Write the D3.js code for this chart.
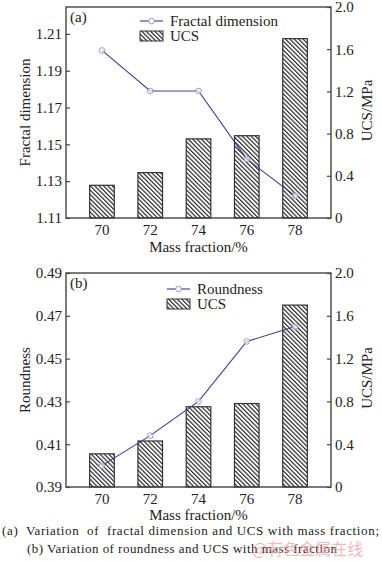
<!DOCTYPE html>
<html>
<head>
<meta charset="utf-8">
<script src="https://cdn.jsdelivr.net/npm/d3@7"></script>
<style>
  body { margin: 0; background: #fff; }
  svg text { font-family: "Liberation Serif", "DejaVu Serif", serif; fill: #222; }
</style>
</head>
<body>
<div id="chart"></div>
<script>
const massFraction = [70, 72, 74, 76, 78];
const ucs = [0.31, 0.43, 0.75, 0.78, 1.70];
const fractalDim = [1.201, 1.179, 1.179, 1.142, 1.122];
const roundness = [0.400, 0.414, 0.430, 0.458, 0.465];
const fractalTicks = [1.11, 1.13, 1.15, 1.17, 1.19, 1.21];
const roundTicks = [0.39, 0.41, 0.43, 0.45, 0.47, 0.49];
const ucsTicks = [0, 0.4, 0.8, 1.2, 1.6, 2.0];

const W = 382, H = 561;
const svg = d3.select('#chart').append('svg')
    .attr('width', W)
    .attr('height', H);

svg.append('rect').attr('width', W).attr('height', H).attr('fill', '#fff');

// hatch for the UCS bars
const defs = svg.append('defs');
const pat = defs.append('pattern')
    .attr('id', 'hatch')
    .attr('patternUnits', 'userSpaceOnUse')
    .attr('width', 3.1)
    .attr('height', 3.1)
    .attr('patternTransform', 'rotate(-45)');
pat.append('rect').attr('width', 3.1).attr('height', 3.1).attr('fill', '#fff');
pat.append('line')
    .attr('x1', 0.6).attr('y1', 0).attr('x2', 0.6).attr('y2', 3.1)
    .attr('stroke', '#2a2a2a').attr('stroke-width', 1.2);

const lineColor = '#3a3a8e';
const markerColor = '#9a9ad0';

function drawPanel(opts) {
    const left = 66, right = 331;
    const top = opts.top, bottom = opts.bottom;
    const g = svg.append('g');

    const x = d3.scaleBand()
        .domain(massFraction)
        .range([left, right])
        .padding(0.49);
    const xc = d => x(d) + x.bandwidth() / 2;

    const yL = d3.scaleLinear().domain(opts.leftDomain).range([bottom, top]);
    const yR = d3.scaleLinear().domain([0, 2.0]).range([bottom, top]);

    // bars
    g.selectAll('.bar')
        .data(massFraction)
        .enter().append('rect')
        .attr('class', 'bar')
        .attr('x', d => x(d))
        .attr('y', (d, i) => yR(ucs[i]))
        .attr('width', x.bandwidth())
        .attr('height', (d, i) => bottom - yR(ucs[i]))
        .attr('fill', 'url(#hatch)')
        .attr('stroke', '#333')
        .attr('stroke-width', 1.2);

    // frame
    g.append('rect')
        .attr('x', left).attr('y', top)
        .attr('width', right - left).attr('height', bottom - top)
        .attr('fill', 'none')
        .attr('stroke', '#444')
        .attr('stroke-width', 1.4);

    // left axis (ticks inward)
    const axL = g.append('g')
        .attr('transform', `translate(${left},0)`)
        .call(d3.axisRight(yL).tickValues(opts.leftTicks).tickSize(4).tickFormat(d3.format('.2f')));
    axL.select('.domain').remove();
    axL.selectAll('line').attr('stroke', '#444').attr('stroke-width', 1.2);
    axL.selectAll('text')
        .attr('x', -4)
        .attr('text-anchor', 'end')
        .style('font-size', '15px');

    // right axis (ticks inward)
    const axR = g.append('g')
        .attr('transform', `translate(${right},0)`)
        .call(d3.axisLeft(yR).tickValues(ucsTicks).tickSize(4)
            .tickFormat(d => d === 0 ? '0' : d.toFixed(1)));
    axR.select('.domain').remove();
    axR.selectAll('line').attr('stroke', '#444').attr('stroke-width', 1.2);
    axR.selectAll('text')
        .attr('x', 4)
        .attr('text-anchor', 'start')
        .style('font-size', '15px');

    // bottom axis labels
    const axB = g.append('g')
        .attr('transform', `translate(0,${bottom})`)
        .call(d3.axisBottom(x).tickSize(0).tickPadding(6));
    axB.select('.domain').remove();
    axB.selectAll('text').style('font-size', '15px');

    g.append('text')
        .attr('x', (left + right) / 2)
        .attr('y', bottom + opts.titleDy)
        .attr('text-anchor', 'middle')
        .style('font-size', '15px')
        .text('Mass fraction/%');

    g.append('text')
        .attr('transform', `translate(30,${(top + bottom) / 2}) rotate(-90)`)
        .attr('text-anchor', 'middle')
        .style('font-size', '15px')
        .text(opts.leftTitle);

    g.append('text')
        .attr('transform', `translate(372,${(top + bottom) / 2 - 2}) rotate(-90)`)
        .attr('text-anchor', 'middle')
        .style('font-size', '15px')
        .text('UCS/MPa');

    // line series
    const line = d3.line()
        .x((d, i) => xc(massFraction[i]))
        .y(d => yL(d));
    g.append('path')
        .datum(opts.values)
        .attr('d', line)
        .attr('fill', 'none')
        .attr('stroke', lineColor)
        .attr('stroke-width', 1.1);
    g.selectAll('.pt')
        .data(opts.values)
        .enter().append('circle')
        .attr('class', 'pt')
        .attr('cx', (d, i) => xc(massFraction[i]))
        .attr('cy', d => yL(d))
        .attr('r', 2.8)
        .attr('fill', '#fff')
        .attr('fill-opacity', 0.6)
        .attr('stroke', markerColor)
        .attr('stroke-width', 1);

    // panel tag
    g.append('text')
        .attr('x', 70).attr('y', top + 15)
        .style('font-size', '15px')
        .text(opts.tag);

    // legend
    const lx = opts.legendX, ly = top + opts.legendDy;
    g.append('line')
        .attr('x1', lx).attr('x2', lx + 23)
        .attr('y1', ly).attr('y2', ly)
        .attr('stroke', lineColor).attr('stroke-width', 1.1);
    g.append('circle')
        .attr('cx', lx + 11.5).attr('cy', ly).attr('r', 2.8)
        .attr('fill', '#fff').attr('stroke', markerColor).attr('stroke-width', 1);
    g.append('text')
        .attr('x', lx + 30).attr('y', ly + 5)
        .style('font-size', '15px')
        .text(opts.legendLabel);
    g.append('rect')
        .attr('x', lx).attr('y', ly + 10)
        .attr('width', 23).attr('height', 10)
        .attr('fill', 'url(#hatch)')
        .attr('stroke', '#333').attr('stroke-width', 1);
    g.append('text')
        .attr('x', lx + 30).attr('y', ly + 20)
        .style('font-size', '15px')
        .text('UCS');
}

drawPanel({
    top: 7, bottom: 218,
    leftDomain: [1.11, 1.2246],
    leftTicks: fractalTicks,
    values: fractalDim,
    leftTitle: 'Fractal dimension',
    tag: '(a)',
    legendX: 140, legendDy: 14,
    legendLabel: 'Fractal dimension',
    titleDy: 34
});

drawPanel({
    top: 273, bottom: 487,
    leftDomain: [0.39, 0.49],
    leftTicks: roundTicks,
    values: roundness,
    leftTitle: 'Roundness',
    tag: '(b)',
    legendX: 167, legendDy: 16,
    legendLabel: 'Roundness',
    titleDy: 33
});

// caption
svg.append('text')
    .attr('x', 2).attr('y', 535)
    .attr('xml:space', 'preserve')
    .attr('textLength', 377)
    .style('font-size', '13px')
    .style('white-space', 'pre')
    .text('(a)  Variation  of  fractal dimension and UCS with mass fraction;');
svg.append('text')
    .attr('x', 27).attr('y', 553)
    .attr('textLength', 310)
    .style('font-size', '13px')
    .text('(b) Variation of roundness and UCS with mass fraction');

// watermark
svg.append('text')
    .attr('x', 252).attr('y', 555)
    .style('font-family', '"Noto Sans CJK SC", sans-serif')
    .style('font-size', '16px')
    .style('fill', '#f0a0a8')
    .style('fill-opacity', 0.75)
    .text('@有色金属在线');
</script>
</body>
</html>
